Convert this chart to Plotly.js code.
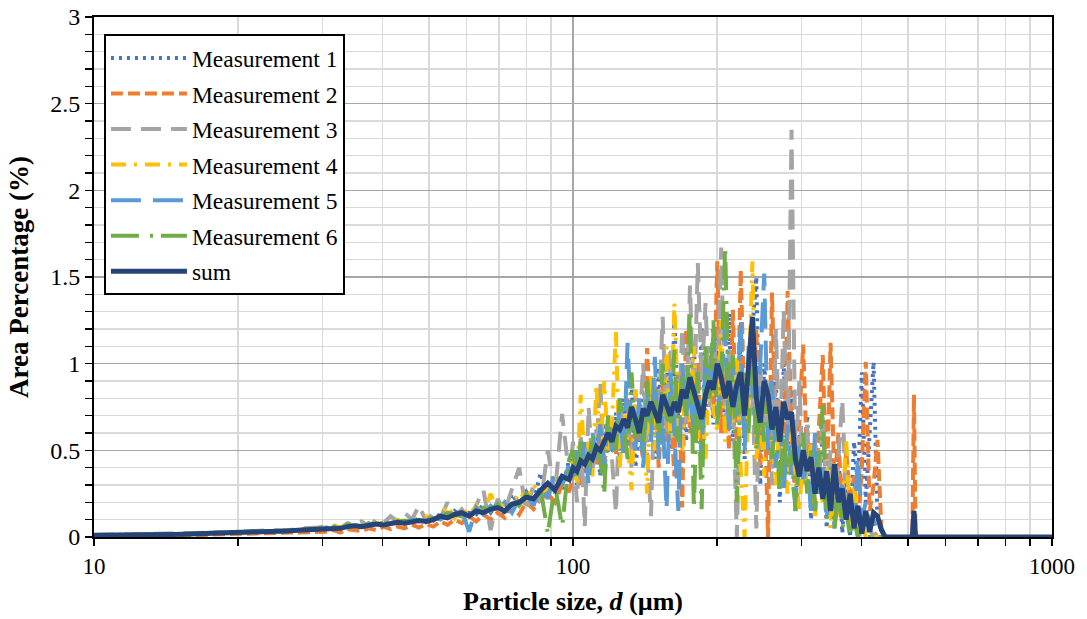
<!DOCTYPE html>
<html>
<head>
<meta charset="utf-8">
<script src="https://cdn.plot.ly/plotly-3.0.1.min.js"></script>
<style>html,body{margin:0;padding:0;background:#fff;}#chart{width:1087px;height:619px;}</style>
</head>
<body>
<div id="chart"></div>
<script>
// Particle size (µm)
var sizes = [10, 10.8, 11.7, 12.6, 13.6, 14.7, 15.9, 17.1, 18.5, 20, 21.6, 23.3, 25.2, 27.2, 29.4,
30.5, 31.6, 32.7, 33.8, 35, 36.2, 37.5, 38.8, 40.2, 41.6, 43, 44.5, 46.1, 47.7, 49.4, 51.1, 52.9, 54.7, 56.6, 58.6,
60.7, 62.8, 65, 67.3, 69.6, 72, 74.6, 77.2, 79.9, 82.7, 85.6, 88.6, 91.7, 94.9, 98.2,
100, 101.9, 103.8, 105.8, 107.8, 109.8, 111.9, 114, 116.2, 118.4,
120.6, 122.9, 125.2, 127.6, 130, 132.5, 135, 137.5, 140.1, 142.8,
145.5, 148.2, 151, 153.9, 156.8, 159.8, 162.8, 165.9, 169, 172.2,
175.5, 178.8, 182.2, 185.6, 189.1, 192.7, 196.4, 200.1, 203.9, 207.8,
211.7, 215.7, 219.8, 224, 228.2, 232.5, 236.9, 241.4, 246, 250.7,
255.4, 260.3, 265.2, 270.2, 275.3, 280.6, 285.9, 291.3, 296.8, 302.4,
308.2, 314, 320, 326, 332.2, 338.5, 344.9, 351.5, 358.1, 364.9,
371.9, 378.9, 386.1, 393.4, 400.9, 408.5, 416.2, 424.1, 432.2, 440.4, 448.7,
457, 466, 475, 490, 505, 511, 515, 519, 525, 540, 600, 700, 800, 900, 1000];

var m1 = [0.01, 0.012, 0.01, 0.014, 0.013, 0.017, 0.016, 0.022, 0.02, 0.027, 0.025, 0.033, 0.032, 0.043, 0.04,
0.055, 0.05, 0.058, 0.055, 0.07, 0.058, 0.076, 0.07, 0.082, 0.075, 0.095, 0.078, 0.10, 0.09, 0.11, 0.095, 0.135, 0.10, 0.15, 0.12,
0.14, 0.13, 0.19, 0.14, 0.20, 0.12, 0.25, 0.18, 0.26, 0.20, 0.37, 0.22, 0.35, 0.27, 0.45,
0.42, 0.30, 0.50, 0.36, 0.55, 0.40, 0.62, 0.35, 0.66, 0.48,
0.50, 0.72, 0.45, 0.80, 0.52, 0.88, 0.40, 0.62, 0.92, 0.55,
0.85, 0.45, 0.98, 0.60, 1.05, 0.50, 1.26, 0.65, 1.00, 0.55,
0.95, 1.10, 0.60, 1.21, 0.70, 1.05, 0.65, 1.15, 0.85, 0.60,
1.29, 0.55, 0.90, 1.10, 0.45, 1.05, 1.20, 1.50, 0.30, 1.00,
0.70, 0.40, 0.90, 0.20, 1.00, 0.50, 0.85, 0.15, 0.60, 0.35,
0.70, 0.10, 0.55, 0.25, 0.60, 0.05, 0.45, 0.15, 0.50, 0.02,
0.35, 0.00, 0.55, 0.30, 0.95, 0.20, 0.60, 1.01, 0.10, 0.05, 0.00,
0, 0, 0, 0, 0, 0, 0, 0, 0, 0, 0, 0, 0, 0, 0];

var m2 = [0.008, 0.006, 0.01, 0.008, 0.011, 0.01, 0.014, 0.012, 0.016, 0.018, 0.02, 0.022, 0.025, 0.028, 0.03,
0.03, 0.04, 0.025, 0.045, 0.04, 0.035, 0.05, 0.04, 0.06, 0.045, 0.06, 0.05, 0.07, 0.055, 0.075, 0.06, 0.09, 0.07, 0.10, 0.08,
0.12, 0.09, 0.13, 0.10, 0.14, 0.11, 0.18, 0.13, 0.20, 0.16, 0.22, 0.25, 0.20, 0.30, 0.26,
0.35, 0.45, 0.30, 0.50, 0.38, 0.55, 0.42, 0.60, 0.45, 0.50,
0.65, 0.48, 0.70, 0.55, 0.80, 0.50, 0.72, 0.58, 0.45, 1.09,
0.60, 0.85, 0.40, 0.90, 0.55, 0.75, 0.35, 0.95, 0.17, 1.20,
0.60, 0.70, 1.00, 0.45, 0.85, 1.10, 0.70, 1.59, 0.60, 0.95,
0.50, 1.31, 0.50, 1.54, 0.65, 1.00, 0.75, 1.20, 0.40, 0.85,
0.00, 1.41, 0.55, 0.80, 0.30, 1.42, 0.60, 0.25, 0.70, 1.11,
0.40, 0.55, 0.20, 0.65, 1.05, 0.25, 1.12, 0.30, 0.60, 0.10,
0.50, 0.20, 0.35, 0.05, 0.40, 1.01, 0.15, 0.30, 0.56, 0.05, 0.00,
0, 0, 0, 0, 0, 0, 0.82, 0, 0, 0, 0, 0, 0, 0, 0];

var m3 = [0.012, 0.014, 0.013, 0.016, 0.018, 0.02, 0.022, 0.025, 0.03, 0.028, 0.035, 0.04, 0.038, 0.05, 0.055,
0.06, 0.07, 0.05, 0.08, 0.07, 0.09, 0.06, 0.10, 0.08, 0.12, 0.09, 0.14, 0.10, 0.18, 0.09, 0.14, 0.11, 0.20, 0.12, 0.16,
0.10, 0.19, 0.27, 0.04, 0.22, 0.15, 0.28, 0.40, 0.15, 0.30, 0.20, 0.50, 0.25, 0.71, 0.35,
0.55, 0.20, 0.60, 0.06, 0.75, 0.40, 0.50, 0.90, 0.35, 0.65,
0.45, 0.14, 0.80, 0.55, 0.70, 0.40, 0.85, 0.60, 1.00, 0.50,
0.12, 0.90, 0.70, 1.27, 0.60, 1.10, 0.75, 0.55, 1.20, 0.65,
1.45, 0.70, 1.58, 0.90, 1.35, 0.75, 1.20, 0.85, 1.67, 0.65,
1.10, 0.80, 0.00, 0.95, 0.60, 0.70, 0.90, 0.05, 1.00, 0.55,
0.85, 0.30, 1.20, 0.45, 1.31, 0.50, 2.35, 0.40, 0.90, 0.30,
0.65, 0.15, 0.55, 0.30, 0.70, 0.20, 0.50, 0.10, 0.45, 0.79,
0.20, 0.05, 0.15, 0.00, 0.10, 0.00, 0.05, 0.00, 0.03, 0.00, 0.00,
0, 0, 0, 0, 0, 0, 0, 0, 0, 0, 0, 0, 0, 0, 0];

var m4 = [0.01, 0.011, 0.013, 0.012, 0.015, 0.016, 0.02, 0.019, 0.024, 0.026, 0.03, 0.029, 0.036, 0.042, 0.046,
0.05, 0.06, 0.055, 0.07, 0.06, 0.075, 0.07, 0.08, 0.085, 0.07, 0.10, 0.08, 0.11, 0.09, 0.12, 0.10, 0.13, 0.18, 0.11, 0.16,
0.13, 0.18, 0.12, 0.25, 0.15, 0.20, 0.17, 0.26, 0.22, 0.30, 0.25, 0.28, 0.35, 0.30, 0.40,
0.45, 0.30, 0.82, 0.40, 0.55, 0.35, 0.88, 0.45, 0.90, 0.50,
0.65, 1.19, 0.40, 0.75, 0.55, 0.27, 0.85, 0.60, 0.70, 0.25,
0.95, 0.50, 0.75, 0.60, 1.10, 0.55, 1.35, 0.70, 0.50, 0.95,
0.65, 1.10, 0.55, 0.80, 0.45, 1.00, 0.75, 0.60, 1.25, 0.55,
0.90, 0.65, 1.05, 0.40, 0.00, 0.85, 1.59, 0.45, 0.70, 0.35,
0.80, 0.55, 0.30, 0.70, 0.45, 0.25, 0.60, 0.35, 0.15, 0.50,
0.30, 0.55, 0.10, 0.40, 0.20, 0.45, 0.05, 0.35, 0.10, 0.15,
0.56, 0.05, 0.30, 0.00, 0.10, 0.00, 0.05, 0.00, 0.00, 0.00, 0.00,
0, 0, 0, 0, 0, 0, 0, 0, 0, 0, 0, 0, 0, 0, 0];

var m5 = [0.01, 0.009, 0.012, 0.013, 0.014, 0.016, 0.017, 0.021, 0.022, 0.024, 0.029, 0.03, 0.036, 0.038, 0.047,
0.05, 0.045, 0.06, 0.055, 0.065, 0.06, 0.075, 0.07, 0.08, 0.075, 0.09, 0.08, 0.10, 0.09, 0.095, 0.11, 0.10, 0.13, 0.12, 0.15,
0.03, 0.17, 0.13, 0.18, 0.15, 0.20, 0.14, 0.22, 0.25, 0.18, 0.30, 0.22, 0.38, 0.30, 0.42,
0.35, 0.50, 0.40, 0.55, 0.30, 0.60, 0.45, 0.65, 0.40, 0.70,
0.50, 0.55, 0.75, 0.45, 1.12, 0.60, 0.50, 0.80, 0.40, 0.85,
0.55, 1.04, 0.45, 0.70, 0.16, 0.95, 0.60, 0.15, 1.00, 0.70,
0.85, 0.60, 0.95, 0.45, 1.05, 0.80, 1.15, 0.70, 0.90, 1.20,
0.60, 1.00, 0.70, 1.25, 0.50, 1.10, 0.85, 0.60, 1.00, 1.52,
0.50, 0.90, 0.40, 0.75, 0.25, 0.65, 0.35, 0.20, 0.55, 0.30,
0.45, 0.15, 0.60, 0.25, 0.40, 0.10, 0.35, 0.05, 0.25, 0.30,
0.10, 0.20, 0.05, 0.46, 0.10, 0.20, 0.05, 0.10, 0.02, 0.00, 0.00,
0, 0, 0, 0, 0, 0, 0, 0, 0, 0, 0, 0, 0, 0, 0];

var m6 = [0.011, 0.012, 0.014, 0.013, 0.016, 0.018, 0.02, 0.023, 0.025, 0.03, 0.032, 0.034, 0.04, 0.042, 0.05,
0.055, 0.06, 0.05, 0.07, 0.065, 0.06, 0.08, 0.07, 0.085, 0.08, 0.09, 0.095, 0.085, 0.11, 0.10, 0.12, 0.11, 0.14, 0.13, 0.12,
0.16, 0.14, 0.17, 0.15, 0.19, 0.14, 0.22, 0.18, 0.25, 0.20, 0.28, 0.02, 0.30, 0.06, 0.45,
0.50, 0.35, 0.55, 0.45, 0.40, 0.60, 0.50, 0.45, 0.25, 0.70,
0.60, 0.50, 0.80, 0.65, 0.45, 0.95, 0.55, 0.70, 0.50, 0.90,
0.65, 0.85, 0.55, 1.00, 0.70, 0.60, 1.08, 0.55, 0.95, 0.70,
1.31, 0.16, 0.95, 0.16, 1.10, 0.80, 1.25, 0.65, 0.90, 1.68,
0.70, 1.05, 0.20, 0.85, 0.95, 0.60, 1.10, 0.50, 0.75, 0.55,
0.90, 0.45, 0.70, 0.25, 0.60, 0.35, 0.50, 0.15, 0.45, 0.60,
0.25, 0.50, 0.15, 0.45, 0.76, 0.10, 0.40, 0.05, 0.30, 0.05,
0.15, 0.00, 0.10, 0.00, 0.05, 0.00, 0.00, 0.00, 0.00, 0.00, 0.00,
0, 0, 0, 0, 0, 0, 0, 0, 0, 0, 0, 0, 0, 0, 0];

var sumVals = [0.01, 0.01, 0.012, 0.012, 0.014, 0.015, 0.018, 0.02, 0.022, 0.025, 0.028, 0.03, 0.035, 0.04, 0.045,
0.05, 0.055, 0.05, 0.06, 0.065, 0.06, 0.07, 0.075, 0.07, 0.08, 0.085, 0.08, 0.09, 0.095, 0.09, 0.10, 0.12, 0.11, 0.13, 0.14,
0.12, 0.15, 0.14, 0.16, 0.17, 0.15, 0.19, 0.20, 0.23, 0.22, 0.27, 0.31, 0.27, 0.35, 0.33,
0.40, 0.38, 0.44, 0.42, 0.47, 0.45, 0.52, 0.50, 0.56, 0.60,
0.55, 0.64, 0.62, 0.68, 0.63, 0.75, 0.68, 0.60, 0.74, 0.70,
0.78, 0.72, 0.66, 0.82, 0.76, 0.70, 0.78, 0.72, 0.85, 0.80,
0.92, 0.84, 0.76, 0.68, 0.82, 0.90, 0.85, 1.00, 0.92, 0.80,
0.90, 0.75, 0.88, 0.95, 0.70, 0.98, 1.27, 0.80, 0.66, 0.90,
0.82, 0.62, 0.75, 0.55, 0.78, 0.68, 0.72, 0.45, 0.35, 0.50,
0.38, 0.46, 0.25, 0.40, 0.22, 0.38, 0.15, 0.42, 0.20, 0.28,
0.10, 0.25, 0.05, 0.18, 0.02, 0.15, 0.03, 0.14, 0.12, 0.04, 0.00,
0, 0, 0, 0, 0, 0, 0.15, 0, 0, 0, 0, 0, 0, 0, 0];

var seriesNames = ['Measurement 1', 'Measurement 2', 'Measurement 3', 'Measurement 4', 'Measurement 5', 'Measurement 6', 'sum'];
var xTickVals = [10, 100, 1000];
var xTickText = ['10', '100', '1000'];
var yTickVals = [0, 0.5, 1, 1.5, 2, 2.5, 3];
var yTickText = ['0', '0.5', '1', '1.5', '2', '2.5', '3'];
var xMinorVals = [20, 30, 40, 50, 60, 70, 80, 90, 200, 300, 400, 500, 600, 700, 800, 900];

var colors = ['#4472C4', '#ED7D31', '#A5A5A5', '#FFC000', '#5B9BD5', '#70AD47', '#264478'];
var dashes = ['3px,5px', '12px,5px', '20px,10px', '15px,8px,3px,8px', '30px,12px', '28px,11px,3px,8px', 'solid'];
var widths = [4, 4, 4, 4, 4, 4, 5];
var ys = [m1, m2, m3, m4, m5, m6, sumVals];

var traces = ys.map(function (y, i) {
  return {
    x: sizes, y: y, type: 'scatter', mode: 'lines', name: seriesNames[i],
    legendgroup: 'g' + i,
    line: {color: colors[i], width: widths[i], dash: dashes[i]}
  };
});

var font = 'Liberation Serif, Times New Roman, serif';
var layout = {
  width: 1087, height: 619,
  margin: {l: 94, r: 35, t: 17, b: 82},
  paper_bgcolor: '#ffffff', plot_bgcolor: '#ffffff',
  font: {family: font, size: 23, color: '#000'},
  showlegend: true,
  legend: {
    x: 0.0104, y: 0.967, xanchor: 'left', yanchor: 'top',
    bgcolor: '#ffffff', bordercolor: '#000', borderwidth: 2,
    font: {family: font, size: 23.5, color: '#000'},
    tracegroupgap: 2, traceorder: 'grouped', itemwidth: 76
  },
  xaxis: {
    type: 'log', range: [1, 3],
    tickvals: xTickVals, ticktext: xTickText,
    ticks: 'outside', ticklen: 7, tickwidth: 1.5, tickcolor: '#000',
    showline: true, linecolor: '#000', linewidth: 2, mirror: true,
    showgrid: true, gridcolor: '#a6a6a6', gridwidth: 1.5,
    zeroline: false,
    tickfont: {family: font, size: 23, color: '#000'},
    minor: {tickvals: xMinorVals, ticks: 'outside', ticklen: 7, tickwidth: 1.5, tickcolor: '#000', showgrid: true, gridcolor: '#d9d9d9', gridwidth: 1.5},
    title: {text: '<b>Particle size, <i>d</i> (µm)</b>', font: {family: font, size: 26, color: '#000'}, standoff: 14}
  },
  yaxis: {
    range: [0, 3],
    tickvals: yTickVals, ticktext: yTickText,
    ticks: 'outside', ticklen: 7, tickwidth: 1.5, tickcolor: '#000',
    showline: true, linecolor: '#000', linewidth: 2, mirror: true,
    showgrid: true, gridcolor: '#a6a6a6', gridwidth: 1.5,
    zeroline: false,
    tickfont: {family: font, size: 24, color: '#000'},
    minor: {dtick: 0.1, ticks: 'outside', ticklen: 7, tickwidth: 1.5, tickcolor: '#000', showgrid: true, gridcolor: '#d9d9d9', gridwidth: 1.5},
    title: {text: '<b>Area Percentage (%)</b>', font: {family: font, size: 27, color: '#000'}, standoff: 14}
  }
};

Plotly.newPlot('chart', traces, layout, {displayModeBar: false, staticPlot: true});
</script>
</body>
</html>
